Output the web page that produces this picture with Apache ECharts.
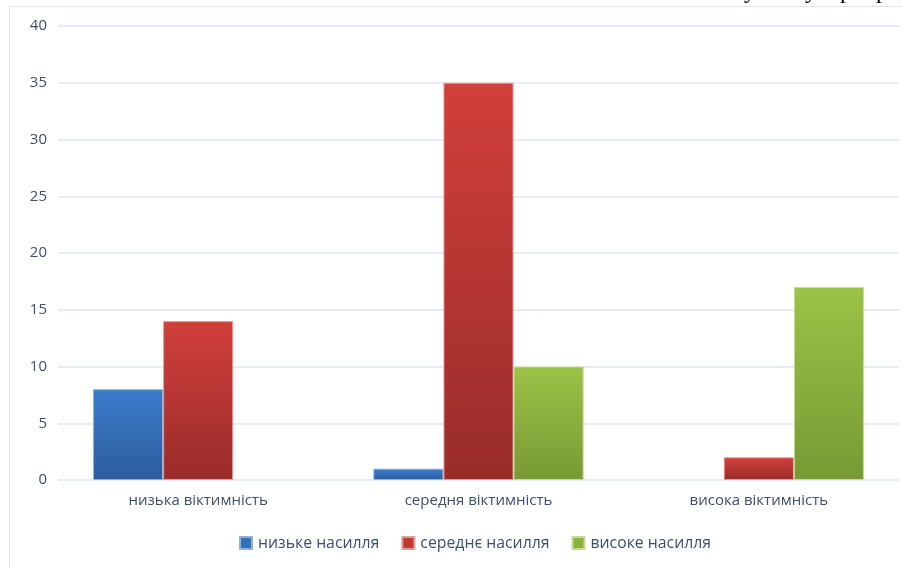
<!DOCTYPE html>
<html>
<head>
<meta charset="utf-8">
<script src="https://cdn.jsdelivr.net/npm/echarts@6/dist/echarts.min.js"></script>
<style>
  html, body { margin: 0; padding: 0; background: #ffffff; }
  #chart { width: 903px; height: 567px; }
</style>
</head>
<body>
<div id="chart"></div>
<script>
// Categories (x axis) and series values
const categories = ['низька віктимність', 'середня віктимність', 'висока віктимність'];
const seriesNames = ['низьке насилля', 'середнє насилля', 'високе насилля'];
const lowViolence = [8, 1, 0];
const midViolence = [14, 35, 2];
const highViolence = [0, 10, 17];
const yTicks = [0, 5, 10, 15, 20, 25, 30, 35, 40];

const labelColor = '#3f5068';
const font = '"Open Sans", "Noto Sans", sans-serif';

function grad(top, bottom) {
  return new echarts.graphic.LinearGradient(0, 0, 0, 1, [
    { offset: 0, color: top },
    { offset: 1, color: bottom }
  ]);
}

const palette = [
  { fill: grad('#3b7dcc', '#2c5c9c'), border: '#8fb2e0', legend: '#3470b8' },
  { fill: grad('#d23f3a', '#982c2a'), border: '#e69995', legend: '#c03a35' },
  { fill: grad('#9cc246', '#779a34'), border: '#c6dc98', legend: '#8cb23e' }
];

const values = [lowViolence, midViolence, highViolence];

// zero-height bars get no outline so they stay invisible
function barData(arr) {
  return arr.map(v => v === 0 ? { value: v, itemStyle: { borderWidth: 0, opacity: 0 } } : v);
}

const chart = echarts.init(document.getElementById('chart'), null, { renderer: 'canvas' });

chart.setOption({
  animation: false,
  backgroundColor: '#ffffff',
  grid: { left: 58, right: 4, top: 26, bottom: 87, containLabel: false },
  legend: {
    bottom: 11,
    left: 234,
    itemWidth: 12,
    itemHeight: 12,
    itemGap: 22,
    icon: 'rect',
    textStyle: { color: labelColor, fontSize: 15.8, fontFamily: font, padding: [0, 0, 0, 1] },
    data: seriesNames.map((n, i) => ({ name: n, itemStyle: { color: palette[i].legend } }))
  },
  xAxis: {
    type: 'category',
    data: categories,
    axisLine: { show: false },
    axisTick: { show: false },
    axisLabel: { color: labelColor, fontSize: 15, fontFamily: font, margin: 13 }
  },
  yAxis: {
    type: 'value',
    min: yTicks[0],
    max: yTicks[yTicks.length - 1],
    interval: yTicks[1] - yTicks[0],
    axisLine: { show: false },
    axisTick: { show: false },
    axisLabel: { color: labelColor, fontSize: 15, fontFamily: font, margin: 11 },
    splitLine: { lineStyle: { color: '#dce6f4', width: 1.5 } }
  },
  series: seriesNames.map((name, i) => ({
    name: name,
    type: 'bar',
    data: barData(values[i]),
    barGap: '0%',
    barCategoryGap: '25%',
    itemStyle: { color: palette[i].fill, borderColor: palette[i].border, borderWidth: 1 }
  })),
  graphic: [
    // chart frame
    { type: 'rect', shape: { x: 9.5, y: 6.5, width: 900, height: 570 },
      style: { fill: 'none', stroke: '#dde7f3', lineWidth: 1 }, silent: true },
    // fragment of the surrounding page text, clipped at the top edge
    { type: 'text', left: 744, top: -20, style: { text: 'у', font: '24px "Liberation Serif"', fill: '#000' } },
    { type: 'text', left: 805, top: -20, style: { text: 'у', font: '24px "Liberation Serif"', fill: '#000' } },
    { type: 'text', left: 840, top: -20, style: { text: 'р', font: '24px "Liberation Serif"', fill: '#000' } },
    { type: 'text', left: 876, top: -20, style: { text: 'р', font: '24px "Liberation Serif"', fill: '#000' } }
  ]
});
</script>
</body>
</html>
